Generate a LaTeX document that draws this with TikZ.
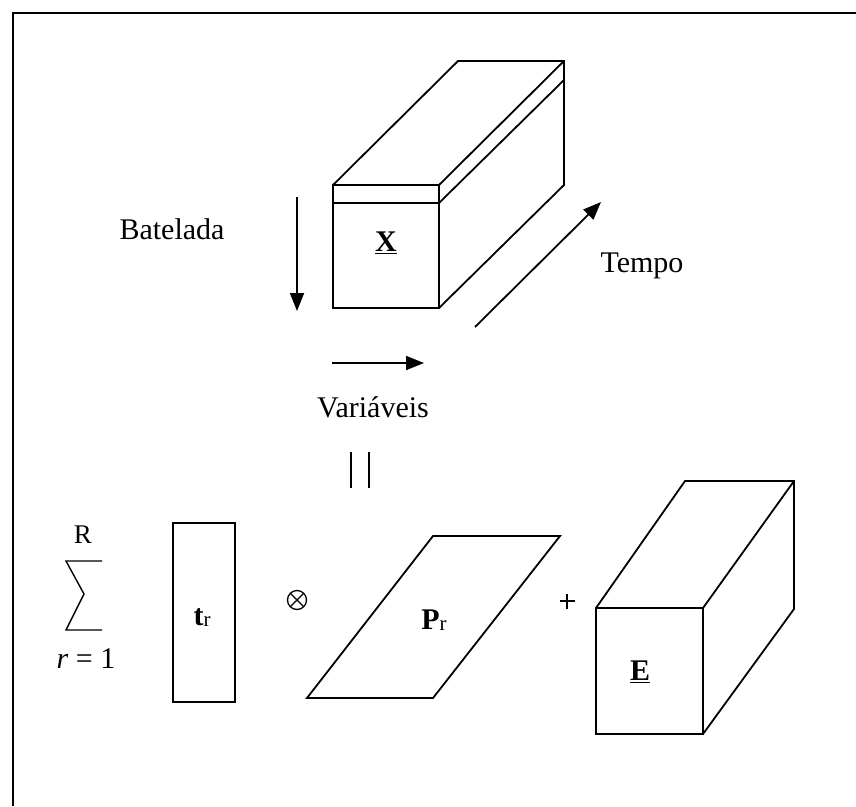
\documentclass[tikz,border=0pt]{standalone}
\usepackage{fontspec}
\setmainfont{Liberation Serif}
\usetikzlibrary{arrows.meta,calc}
\tikzset{
  ln/.style={line width=1.8pt, line join=miter},
  arr/.style={line width=1.8pt, -{Triangle[length=18pt,width=14pt]}},
  lbl/.style={inner sep=0pt, font=\fontsize{30}{36}\selectfont},
}
\begin{document}
\begin{tikzpicture}[x=1pt,y=-1pt]
\useasboundingbox (0,0) rectangle (856,806);
% frame (top and left edges)
\draw[line width=2.8pt] (13,806) -- (13,13) -- (856,13);

% --- tensor X ---
\coordinate (xa) at (333,185);
\coordinate (xb) at (439,185);
\coordinate (xc) at (439,308);
\coordinate (xd) at (333,308);
\coordinate (xs1) at (333,203);
\coordinate (xs2) at (439,203);
\coordinate (xe) at (458,61);
\coordinate (xf) at (564,61);
\coordinate (xg) at (564,185);
\coordinate (xh) at (564,80);
\draw[ln] (xa) -- (xb) -- (xc) -- (xd) -- cycle;
\draw[ln] (xs1) -- (xs2);
\draw[ln] (xa) -- (xe) -- (xf) -- (xg) -- (xc);
\draw[ln] (xb) -- (xf);
\draw[ln] (xs2) -- (xh);
\node[lbl] (X) at (386,243) {\underline{\textbf{X}}};

% --- axes ---
\node[lbl] (bat) at (172,229) {Batelada};
\coordinate (b1) at (297,197);
\coordinate (b2) at (297,311);
\draw[arr] (b1) -- (b2);

\node[lbl] (var) at (373,407) {Variáveis};
\coordinate (v1) at (332,363);
\coordinate (v2) at (424,363);
\draw[arr] (v1) -- (v2);

\node[lbl] (tem) at (642,266) {Tempo};
\coordinate (t1) at (475,327);
\coordinate (t2) at (601,202);
\draw[arr] (t1) -- (t2);

% --- equals (vertical bars) ---
\coordinate (e1a) at (351,452);
\coordinate (e1b) at (351,488);
\coordinate (e2a) at (369,452);
\coordinate (e2b) at (369,488);
\draw[ln] (e1a) -- (e1b);
\draw[ln] (e2a) -- (e2b);

% --- sum ---
\node[inner sep=0pt, font=\fontsize{27}{32}\selectfont] (R) at (83,535) {R};
\coordinate (s1) at (102,561);
\coordinate (s2) at (66,561);
\coordinate (s3) at (84,594);
\coordinate (s4) at (66,630);
\coordinate (s5) at (102,630);
\draw[line width=1.4pt] (s1) -- (s2) -- (s3) -- (s4) -- (s5);
\node[lbl] (r1) at (86,659) {\itshape r\upshape{} = 1};

% --- t_r ---
\coordinate (ta) at (173,523);
\coordinate (tb) at (235,702);
\draw[ln] (ta) rectangle (tb);
\node[lbl] (tr) at (202,618) {\textbf{t}\raisebox{-1pt}{\fontsize{21}{21}\selectfont r}};

% --- otimes ---
\node[inner sep=0pt] (ot) at (297,600) {};
\draw[line width=1.3pt] (ot) circle (9.5pt);
\draw[line width=1.3pt] ($(ot)+(-6.7,-6.7)$) -- ($(ot)+(6.7,6.7)$);
\draw[line width=1.3pt] ($(ot)+(-6.7,6.7)$) -- ($(ot)+(6.7,-6.7)$);

% --- P_r ---
\coordinate (pa) at (433,536);
\coordinate (pb) at (560,536);
\coordinate (pc) at (433,698);
\coordinate (pd) at (307,698);
\draw[ln] (pa) -- (pb) -- (pc) -- (pd) -- cycle;
\node[lbl] (pr) at (434,620) {\textbf{P}\raisebox{-1pt}{\fontsize{21}{21}\selectfont r}};

% --- plus ---
\node[inner sep=0pt] (plus) at (567,601) {};
\draw[line width=1.3pt] ($(plus)+(-7.5,0)$) -- ($(plus)+(7.5,0)$);
\draw[line width=1.3pt] ($(plus)+(0,-7.5)$) -- ($(plus)+(0,7.5)$);

% --- tensor E ---
\coordinate (ea) at (596,608);
\coordinate (eb) at (703,608);
\coordinate (ec) at (703,734);
\coordinate (ed) at (596,734);
\coordinate (ee) at (685,481);
\coordinate (ef) at (794,481);
\coordinate (eg) at (794,609);
\draw[ln] (ea) -- (eb) -- (ec) -- (ed) -- cycle;
\draw[ln] (ea) -- (ee) -- (ef) -- (eg) -- (ec);
\draw[ln] (eb) -- (ef);
\node[lbl] (E) at (640,672) {\underline{\textbf{E}}};
\end{tikzpicture}
\end{document}
